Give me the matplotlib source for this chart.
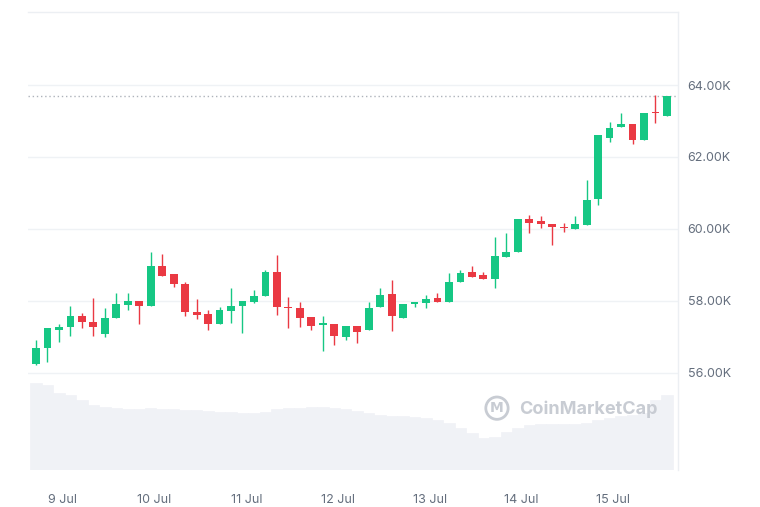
import matplotlib.pyplot as plt
import matplotlib.dates as mdates
import pandas as pd

# 3-hour BTC candles, 8 Jul 17:00 -> 15 Jul 14:00
times = pd.date_range('2024-07-08 17:00', periods=56, freq='3h')

opens = [56250, 56694, 57194, 57278, 57583, 57417, 57083, 57528, 57889, 58000,
         57861, 58972, 58750, 58472, 57694, 57639, 57361, 57722, 57861, 57972,
         58139, 58806, 57833, 57806, 57556, 57333, 57361, 57000, 57306, 57194,
         57833, 58194, 57528, 57917, 57944, 58083, 57972, 58528, 58806, 58722,
         58611, 59222, 59361, 60278, 60222, 60139, 60056, 60000, 60111, 60833,
         62528, 62833, 62917, 62472, 63250, 63139]
highs = [56917, 57250, 57361, 57861, 57667, 58083, 57806, 58222, 58222, 58000,
         59361, 59306, 58750, 58528, 58056, 57750, 57833, 58361, 58000, 58306,
         58861, 59278, 58111, 57972, 57556, 57583, 57361, 57306, 57306, 57972,
         58361, 58583, 57917, 57972, 58167, 58222, 58778, 58861, 58972, 58806,
         59778, 59889, 60278, 60389, 60361, 60139, 60167, 60361, 61361, 62611,
         62972, 63222, 62917, 63222, 63722, 63694]
lows = [56220, 56306, 56861, 57028, 57250, 57028, 57000, 57528, 57750, 57361,
        57861, 58694, 58389, 57583, 57500, 57194, 57361, 57389, 57111, 57944,
        58139, 57611, 57250, 57278, 57194, 56611, 56778, 56917, 56833, 57194,
        57833, 57167, 57528, 57833, 57806, 57972, 57972, 58528, 58667, 58611,
        58361, 59222, 59361, 59889, 60028, 59556, 59917, 60000, 60111, 60667,
        62417, 62833, 62361, 62472, 62944, 63139]
closes = [56694, 57250, 57278, 57583, 57417, 57278, 57528, 57917, 58000, 57861,
          58972, 58694, 58472, 57694, 57611, 57361, 57750, 57861, 58000, 58139,
          58806, 57833, 57806, 57528, 57306, 57389, 57028, 57306, 57139, 57806,
          58167, 57583, 57917, 57972, 58056, 57972, 58528, 58778, 58667, 58611,
          59250, 59361, 60278, 60167, 60139, 60056, 60028, 60139, 60806, 62611,
          62806, 62917, 62472, 63222, 63222, 63694]
# 24h volume, billions USD
volume = [29.0, 28.3, 25.7, 25.0, 23.3, 21.7, 21.0, 20.7, 20.3, 20.3,
          20.7, 20.3, 20.3, 20.0, 20.0, 19.7, 19.3, 19.3, 19.0, 19.0,
          19.3, 20.3, 20.7, 20.7, 21.0, 21.0, 20.7, 20.3, 19.7, 19.0,
          18.3, 18.0, 18.0, 17.7, 17.3, 16.7, 15.7, 14.0, 12.3, 10.7,
          11.0, 12.7, 14.0, 15.0, 15.3, 15.3, 15.3, 15.3, 15.7, 16.7,
          17.3, 18.0, 18.3, 19.0, 23.3, 25.0]
last_price = 63694
price_ticks = [56000, 58000, 60000, 62000, 64000]

UP = '#16c784'
DOWN = '#ea3943'
GRID = '#eff2f5'
TXT = '#646e7d'

fig = plt.figure(figsize=(7.6, 5.07), dpi=100)
ax = fig.add_axes([28 / 760, 37 / 507, 650 / 760, 458 / 507])
ax2 = ax.twinx()
ax.set_zorder(ax2.get_zorder() + 1)
ax.patch.set_visible(False)

step = 3 / 24  # candle spacing in days

# volume underlay
ax2.bar(times, volume, width=step, color='#f0f2f6', edgecolor='#f0f2f6',
        lw=0.5, zorder=1)
ax2.set_ylim(0, 152.7)
ax2.set_yticks([])
for s in ax2.spines.values():
    s.set_visible(False)

# candles
colors = [UP if c >= o else DOWN for o, c in zip(opens, closes)]
bottoms = [min(o, c) for o, c in zip(opens, closes)]
heights = [max(abs(c - o), 30) for o, c in zip(opens, closes)]
ax.vlines(times, lows, highs, colors=colors, lw=1, zorder=3)
ax.bar(times, heights, bottom=bottoms, width=step * 0.68, color=colors, zorder=4)

ax.axhline(last_price, color='#aeb3bb', lw=1, ls=(0, (1, 2)), zorder=2)

ax.set_ylim(53305, 66028)
ax.set_xlim(times[0] - pd.Timedelta(hours=2.1), times[-1] + pd.Timedelta(hours=2.9))
ax.set_yticks(price_ticks)
ax.set_yticklabels([f'{v / 1000:.2f}K' for v in price_ticks])
ax.yaxis.tick_right()
ax.grid(axis='y', color=GRID, lw=1, zorder=0)
ax.tick_params(axis='y', length=0, pad=7, labelsize=9, labelcolor=TXT)
ax.tick_params(axis='x', length=0, pad=17, labelsize=9, labelcolor=TXT)
ax.xaxis.set_major_locator(mdates.DayLocator())
ax.xaxis.set_major_formatter(mdates.DateFormatter('%-d %b'))
for lbl in ax.get_xticklabels() + ax.get_yticklabels():
    lbl.set_fontfamily('Inter')

for side in ['left', 'bottom']:
    ax.spines[side].set_visible(False)
for side in ['top', 'right']:
    ax.spines[side].set_color('#eceff3')
    ax.spines[side].set_linewidth(1)

# watermark
ax.text(0.7215, 0.135, 'M', transform=ax.transAxes, ha='center', va='center',
        fontsize=10, fontweight='bold', color='#c8ccd3', zorder=5,
        bbox=dict(boxstyle='circle,pad=0.3', fc='none', ec='#c8ccd3', lw=2))
ax.text(0.755, 0.133, 'CoinMarketCap', transform=ax.transAxes, ha='left', va='center',
        fontsize=13, fontweight='bold', color='#c8ccd3', family='Inter', zorder=5)

fig.savefig('out.png', dpi=100)
